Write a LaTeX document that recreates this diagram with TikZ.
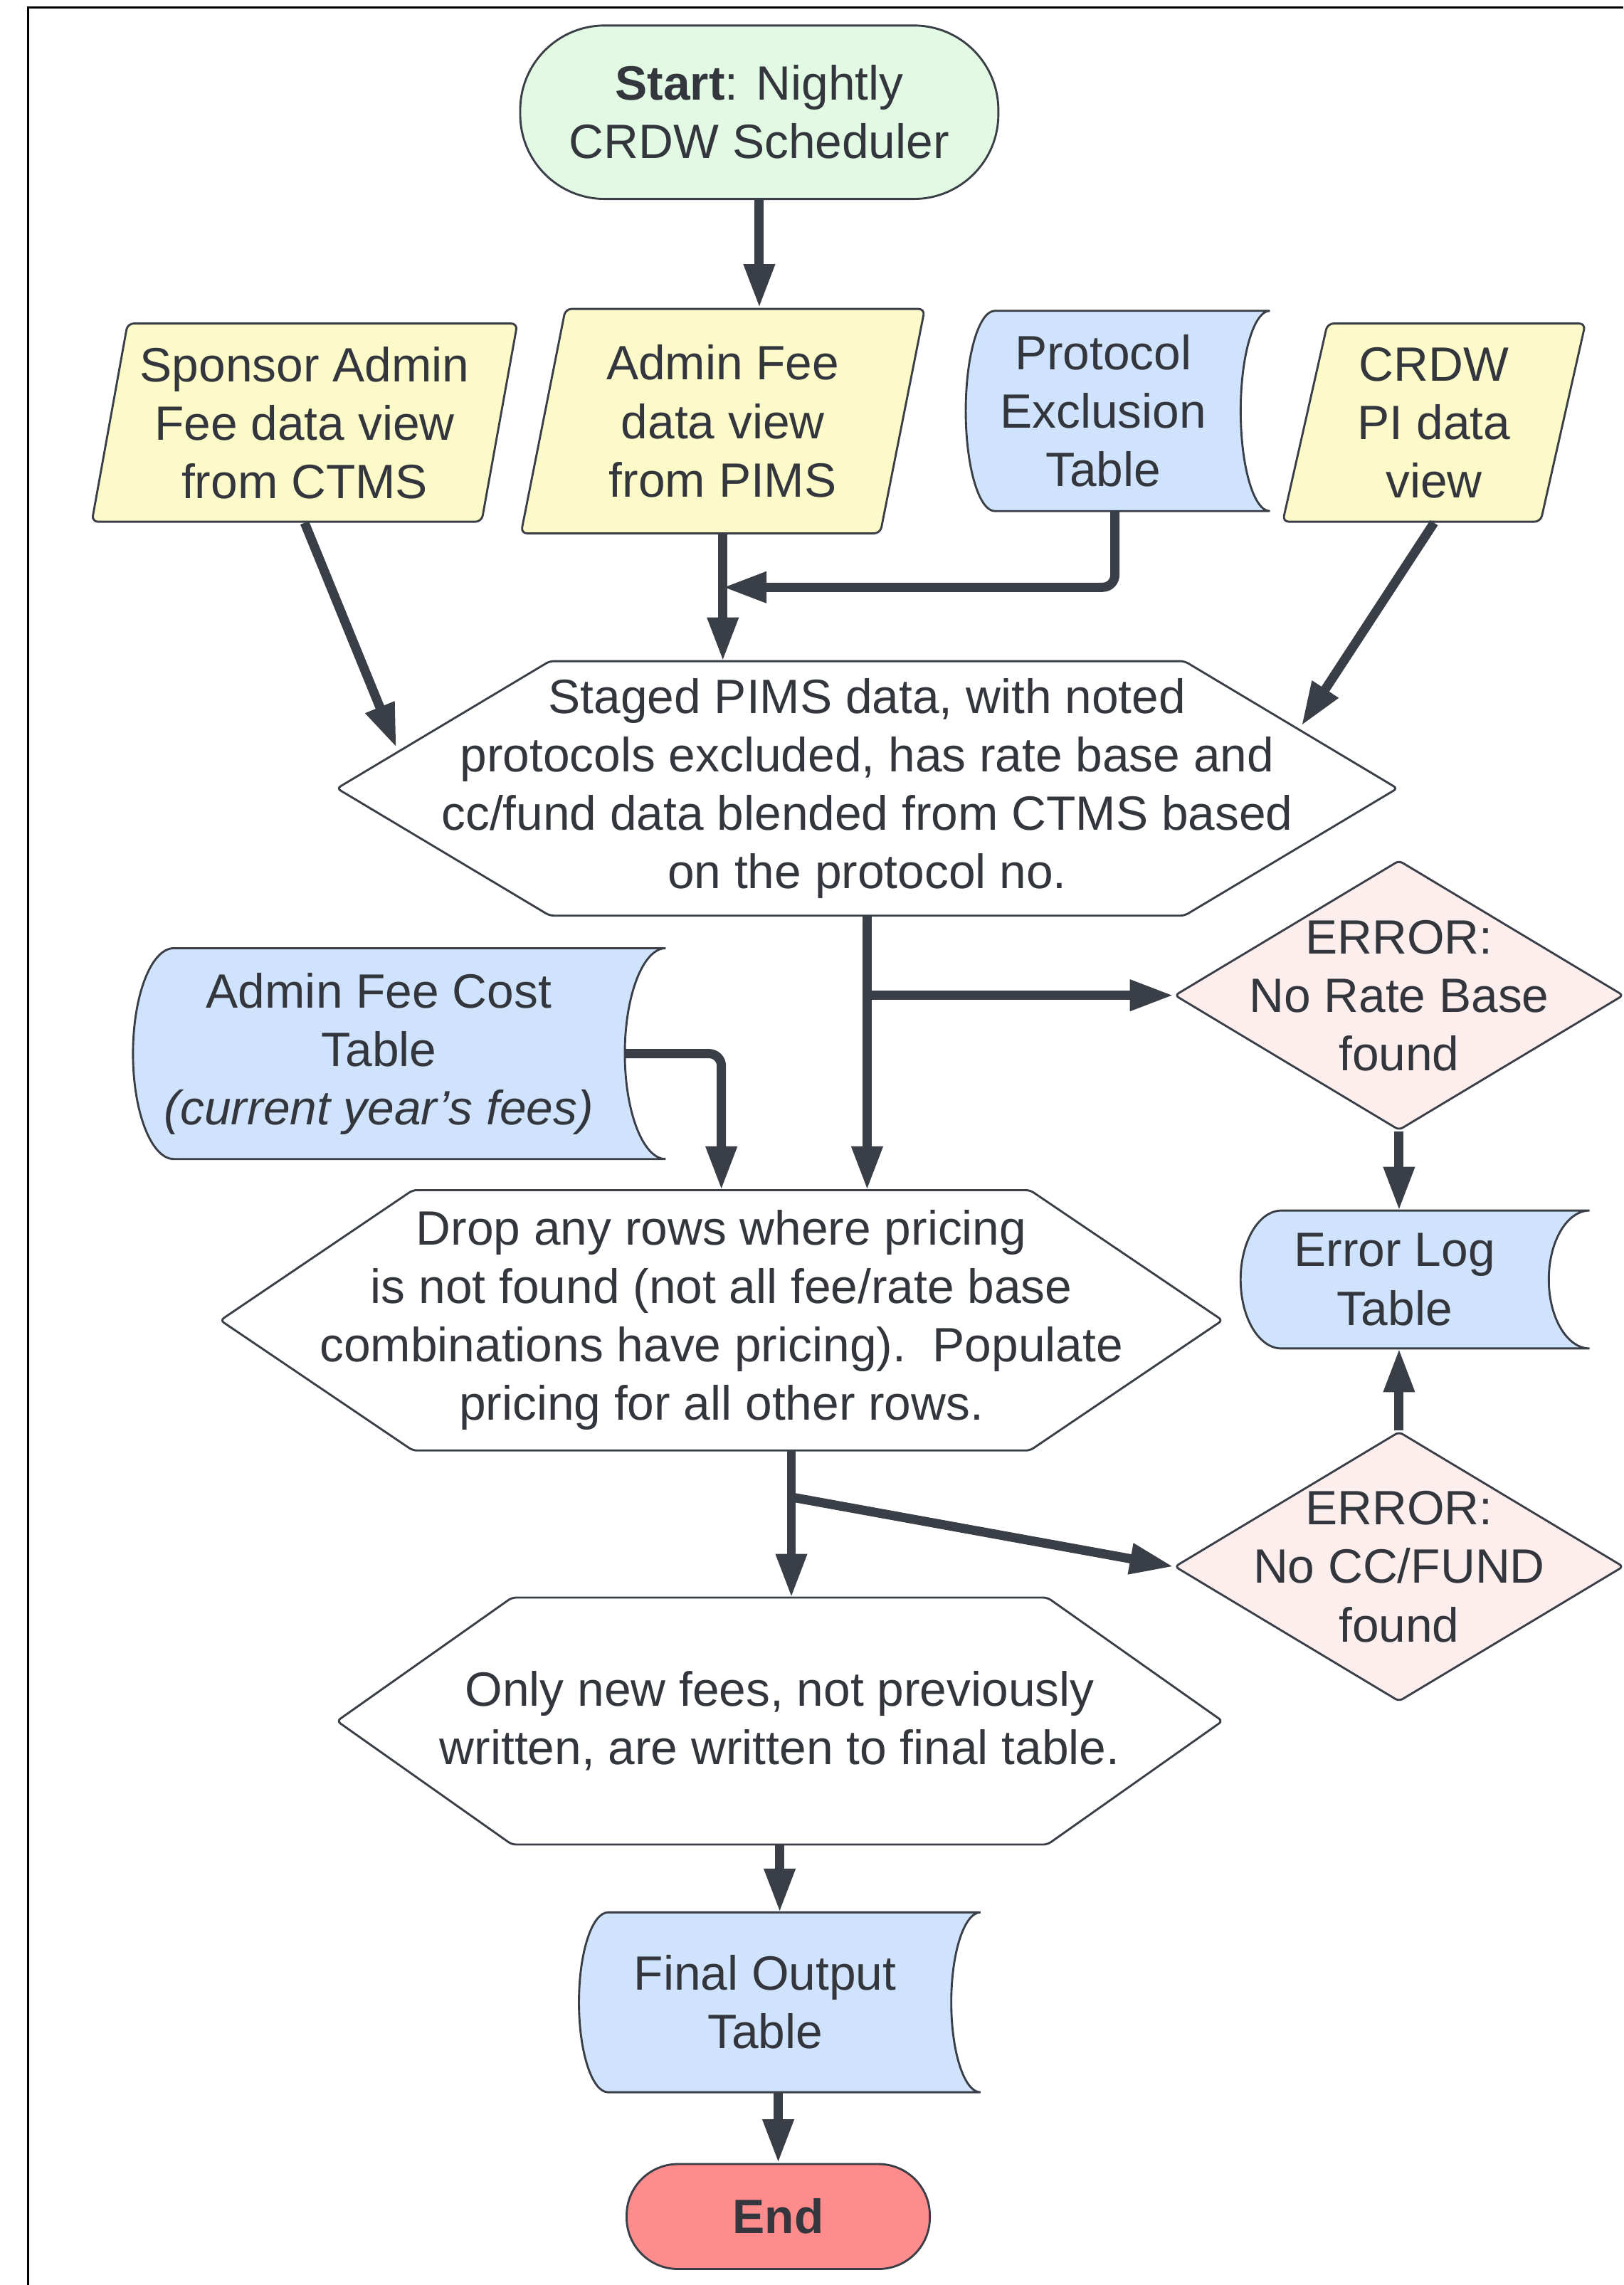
\documentclass[tikz,border=0pt]{standalone}
\usepackage{fontspec}
\setmainfont{Liberation Sans}[Ligatures=ResetAll]
\usetikzlibrary{shapes.geometric,arrows.meta,calc}

\definecolor{edgecol}{RGB}{58,63,71}
\definecolor{txtcol}{RGB}{51,54,60}
\definecolor{startgreen}{RGB}{226,249,227}
\definecolor{inyellow}{RGB}{251,250,200}
\definecolor{tabblue}{RGB}{207,227,252}
\definecolor{errpink}{RGB}{253,238,238}
\definecolor{endred}{RGB}{255,140,140}

\tikzset{store bulge/.store in=\storebulge, store bulge=0.6cm,
         hex cut/.store in=\hexcut, hex cut=3cm}

\makeatletter
% stored data: round left side, hollow right side
\pgfdeclareshape{datastore}{
  \inheritsavedanchors[from=rectangle]
  \inheritanchorborder[from=rectangle]
  \inheritanchor[from=rectangle]{center}
  \inheritanchor[from=rectangle]{north}
  \inheritanchor[from=rectangle]{south}
  \inheritanchor[from=rectangle]{east}
  \inheritanchor[from=rectangle]{west}
  \backgroundpath{
    \pgfmathsetlength\pgf@xc{\storebulge}
    \southwest \pgf@xa=\pgf@x \pgf@ya=\pgf@y
    \northeast \pgf@xb=\pgf@x \pgf@yb=\pgf@y
    \pgf@yc=\pgf@yb \advance\pgf@yc by -\pgf@ya \pgf@yc=.5\pgf@yc
    \edef\ds@rx{\the\pgf@xc}\edef\ds@ry{\the\pgf@yc}
    \advance\pgf@xa by \pgf@xc \advance\pgf@xb by \pgf@xc
    \edef\ds@xl{\the\pgf@xa}\edef\ds@xr{\the\pgf@xb}
    \edef\ds@ya{\the\pgf@ya}\edef\ds@yb{\the\pgf@yb}
    \pgfpathmoveto{\pgfqpoint{\ds@xr}{\ds@yb}}
    \pgfpathlineto{\pgfqpoint{\ds@xl}{\ds@yb}}
    \pgfpatharc{90}{270}{\ds@rx and \ds@ry}
    \pgfpathlineto{\pgfqpoint{\ds@xr}{\ds@ya}}
    \pgfpatharc{270}{90}{\ds@rx and \ds@ry}
    \pgfpathclose
  }
}
% process box: pointed left and right
\pgfdeclareshape{hexbox}{
  \inheritsavedanchors[from=rectangle]
  \inheritanchorborder[from=rectangle]
  \inheritanchor[from=rectangle]{center}
  \inheritanchor[from=rectangle]{north}
  \inheritanchor[from=rectangle]{south}
  \inheritanchor[from=rectangle]{east}
  \inheritanchor[from=rectangle]{west}
  \backgroundpath{
    \pgfmathsetlength\pgf@xc{\hexcut}
    \southwest \pgf@xa=\pgf@x \pgf@ya=\pgf@y
    \northeast \pgf@xb=\pgf@x \pgf@yb=\pgf@y
    \pgf@yc=.5\pgf@ya \advance\pgf@yc by .5\pgf@yb
    \edef\hx@xa{\the\pgf@xa}\edef\hx@xb{\the\pgf@xb}
    \edef\hx@ya{\the\pgf@ya}\edef\hx@yb{\the\pgf@yb}
    \edef\hx@ym{\the\pgf@yc}
    \pgf@x=\pgf@xa \advance\pgf@x by \pgf@xc \edef\hx@xl{\the\pgf@x}
    \pgf@x=\pgf@xb \advance\pgf@x by -\pgf@xc \edef\hx@xr{\the\pgf@x}
    \pgfpathmoveto{\pgfqpoint{\hx@xa}{\hx@ym}}
    \pgfpathlineto{\pgfqpoint{\hx@xl}{\hx@yb}}
    \pgfpathlineto{\pgfqpoint{\hx@xr}{\hx@yb}}
    \pgfpathlineto{\pgfqpoint{\hx@xb}{\hx@ym}}
    \pgfpathlineto{\pgfqpoint{\hx@xr}{\hx@ya}}
    \pgfpathlineto{\pgfqpoint{\hx@xl}{\hx@ya}}
    \pgfpathclose
  }
}
\makeatother

% lines of a diamond, kept out of the diamond's size
\newcommand{\errlines}[1]{\smash{\makebox[0pt]{\raisebox{-0.37em}{\begin{tabular}{@{}c@{}}#1\end{tabular}}}}}

\tikzset{
  every node/.style={font=\fontsize{23.5}{28.5}\selectfont, text=txtcol, align=center},
  shapeline/.style={draw=edgecol, line width=1pt, inner sep=2pt},
  terminal/.style={shapeline, rectangle},
  datain/.style={shapeline, trapezium, trapezium left angle=78, trapezium right angle=102,
    trapezium stretches=true, fill=inyellow, rounded corners=3pt},
  datatable/.style={shapeline, shape=datastore, fill=tabblue},
  process/.style={shapeline, shape=hexbox, fill=white, inner sep=0pt, rounded corners=2pt},
  errdec/.style={shapeline, diamond, fill=errpink, minimum width=7.7cm, minimum height=4.63cm,
    inner sep=0pt, rounded corners=2pt},
  flow/.style={draw=edgecol, line width=4.5pt, -{Triangle[length=7.5mm, width=5mm]}, rounded corners=6pt},
}

\begin{document}
\begin{tikzpicture}[x=0.025cm, y=-0.025cm]
  \useasboundingbox (0,0) rectangle (1114,1568);
  % frame of the screenshot
  \draw[line width=1pt] (19.5,1568) -- (19.5,5) -- (1114,5);

  \node[terminal, fill=startgreen, minimum width=8.2cm, minimum height=2.975cm, rounded corners=1.45cm] (start) at (521,77) {\textbf{Start}: Nightly\\CRDW Scheduler};

  \node[datain, minimum width=7.3cm, minimum height=3.4cm] (sponsor) at (209,290) {Sponsor Admin\\Fee data view\\from CTMS};
  \node[datain, minimum width=6.93cm, minimum height=3.85cm] (pims) at (496,289) {Admin Fee\\data view\\from PIMS};
  \node[datatable, minimum width=4.68cm, minimum height=3.4cm, store bulge=0.5cm] (exclusion) at (757,282) {Protocol\\Exclusion\\Table};
  \node[datain, minimum width=5.2cm, minimum height=3.4cm] (pidata) at (984,290) {CRDW\\PI data\\view};

  \node[process, minimum width=18.15cm, minimum height=4.33cm, hex cut=3.65cm] (staged) at (595,541) {Staged PIMS data, with noted\\protocols excluded, has rate base and\\cc/fund data blended from CTMS based\\on the protocol no.};

  \node[datatable, minimum width=8.4cm, minimum height=3.58cm, store bulge=0.7cm] (feecost) at (260,723) {Admin Fee Cost\\Table\\\textit{(current year's fees)}};
  \node[errdec] (norate) at (960,683) {\errlines{ERROR:\\No Rate Base\\found}};

  \node[process, minimum width=17.15cm, minimum height=4.43cm, hex cut=3.3cm] (drop) at (495,906) {Drop any rows where pricing\\is not found (not all fee/rate base\\combinations have pricing).\ \ Populate\\pricing for all other rows.};
  \node[datatable, minimum width=5.25cm, minimum height=2.33cm, store bulge=0.7cm] (errlog) at (957,878) {Error Log\\Table};
  \node[errdec] (nofund) at (960,1075) {\errlines{ERROR:\\No CC/FUND\\found}};

  \node[process, minimum width=15.15cm, minimum height=4.2cm, hex cut=3cm] (onlynew) at (535,1181) {Only new fees, not previously\\written, are written to final table.};
  \node[datatable, minimum width=6.35cm, minimum height=3.05cm, store bulge=0.5cm] (final) at (525,1374) {Final Output\\Table};
  \node[terminal, fill=endred, minimum width=5.2cm, minimum height=1.8cm, rounded corners=0.88cm] (finish) at (534,1521) {\textbf{End}};

  \coordinate (merge) at (pims.center |- 0,403);
  \coordinate (stagedleft) at (272,513);
  \coordinate (stagedright) at (893,498);
  \coordinate (dropout) at ([xshift=1.2cm]drop.south);
  \coordinate (fork) at ($(dropout)+(0,32)$);

  \draw[flow] (start) -- (start |- pims.north);
  \draw[flow] (pims.center |- pims.south) -- (pims.center |- staged.north);
  \draw[flow] ([xshift=2mm]exclusion.south) |- (merge);
  \draw[flow] (sponsor.center |- sponsor.south) -- (stagedleft);
  \draw[flow] (pidata.center |- pidata.south) -- (stagedright);

  \draw[flow] (staged.south) -- (staged.south |- drop.north);
  \draw[flow] (staged.south |- norate.west) -- (norate.west);
  \draw[flow] (feecost.east) -| (drop.north);
  \draw[flow] (norate.south) -- (norate.south |- errlog.north);
  \draw[flow] (nofund.north) -- (nofund.north |- errlog.south);

  \draw[flow] (dropout) -- (dropout |- onlynew.north);
  \draw[flow] (fork) -- (nofund.west);
  \draw[flow] (onlynew.south) -- (onlynew.south |- final.north);
  \draw[flow] (finish.north |- final.south) -- (finish.north);
\end{tikzpicture}
\end{document}
